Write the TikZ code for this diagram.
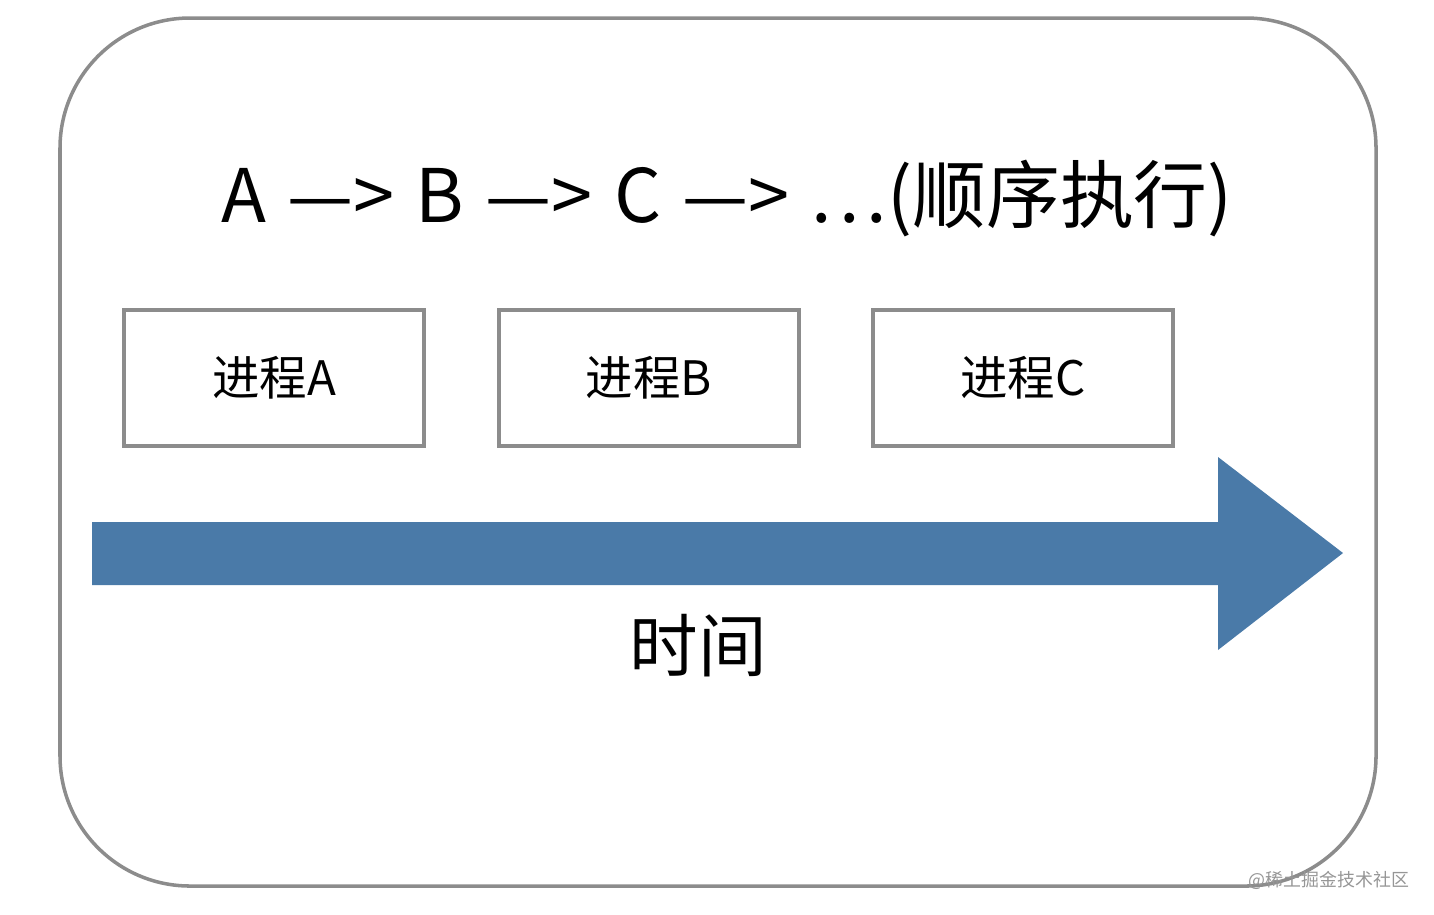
\documentclass[tikz,border=0pt]{standalone}
\usepackage{fontspec}
\setmainfont{Noto Sans CJK SC}
\usepackage{xcolor}
\definecolor{framegray}{RGB}{140,140,140}
\definecolor{arrowblue}{RGB}{74,122,168}
\definecolor{markgray}{RGB}{150,150,150}

\begin{document}
\begin{tikzpicture}[x=0.01cm,y=-0.01cm]
    \useasboundingbox (0,0) rectangle (1434,914);
    \draw[framegray,line width=1pt,rounded corners=1.3cm] (60,18) rectangle (1376,886);

    \node[anchor=base,font=\fontsize{21}{24}\selectfont] (order) at (727,222) {\spaceskip=0.29em A —> B —> C —> .\hspace{0.1em}.\hspace{0.1em}.(顺序执行)};

    \node[draw,framegray,line width=1pt,minimum width=3cm,minimum height=1.36cm,text=black,font=\fontsize{13.5}{16}\selectfont] (procA) at (274,378) {进程A};
    \node[draw,framegray,line width=1pt,minimum width=3cm,minimum height=1.36cm,text=black,font=\fontsize{13.5}{16}\selectfont] (procB) at (649,378) {进程B};
    \node[draw,framegray,line width=1pt,minimum width=3cm,minimum height=1.36cm,text=black,font=\fontsize{13.5}{16}\selectfont] (procC) at (1023,378) {进程C};

    \fill[arrowblue] (92,522) -- (1218,522) -- (1218,457) -- (1343,553) -- (1218,650) -- (1218,585) -- (92,585) -- cycle;

    \node[font=\fontsize{19.5}{22}\selectfont] (time) at (698,646) {时间};

    \node[anchor=east,inner sep=0pt,markgray,font=\fontsize{5.1}{6}\selectfont] (mark) at (1410,880) {@稀土掘金技术社区};
\end{tikzpicture}
\end{document}
